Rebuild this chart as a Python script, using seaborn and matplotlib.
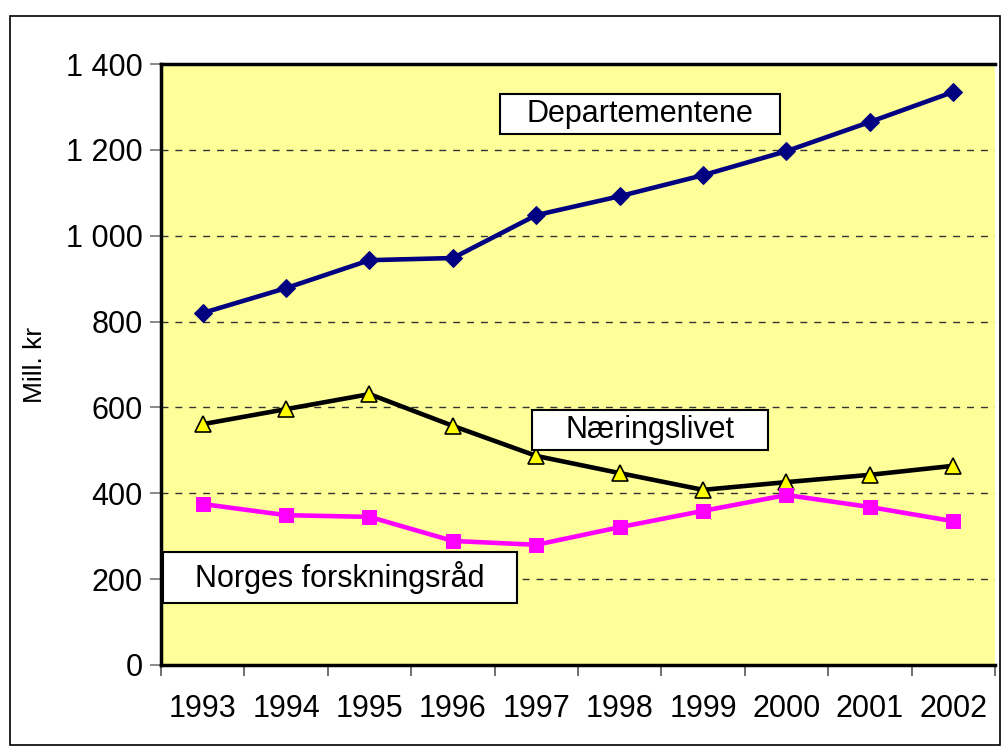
import matplotlib
matplotlib.use("Agg")
import matplotlib.pyplot as plt
import seaborn as sns
import pandas as pd
from matplotlib.patches import Rectangle
from matplotlib.ticker import FixedLocator, FuncFormatter

years = ["1993", "1994", "1995", "1996", "1997", "1998", "1999", "2000", "2001", "2002"]
departementene = [820, 878, 943, 948, 1048, 1092, 1141, 1197, 1265, 1335]
naeringslivet = [561, 596, 631, 557, 487, 447, 408, 426, 443, 464]
forskningsrad = [375, 349, 345, 289, 280, 321, 359, 396, 368, 335]
yticks = [0, 200, 400, 600, 800, 1000, 1200, 1400]

sns.set_theme(style="white")
plt.rcParams['font.family'] = ['Liberation Sans', 'DejaVu Sans']
plt.rcParams['text.color'] = 'black'
plt.rcParams['xtick.color'] = 'black'
plt.rcParams['ytick.color'] = 'black'
plt.rcParams['axes.labelcolor'] = 'black'

W, H = 1003, 747
fig = plt.figure(figsize=(W/100, H/100), dpi=100)
ax = fig.add_axes([161/W, 1 - 665/H, (995-161)/W, (665-64)/H])
ax.set_facecolor("#FFFF99")

pos = list(range(len(years)))
df = pd.DataFrame({"pos": pos, "Departementene": departementene,
                   "Næringslivet": naeringslivet, "Norges forskningsråd": forskningsrad})

sns.lineplot(data=df, x="pos", y="Departementene", ax=ax, color="#000080", lw=3.3,
             marker="D", markersize=9, markeredgecolor="#000080", markerfacecolor="#000080")
sns.lineplot(data=df, x="pos", y="Næringslivet", ax=ax, color="black", lw=3.3,
             marker="^", markersize=11, markeredgecolor="black", markerfacecolor="#FFFF00",
             markeredgewidth=1.2)
sns.lineplot(data=df, x="pos", y="Norges forskningsråd", ax=ax, color="#FF00FF", lw=3.3,
             marker="s", markersize=10, markeredgecolor="#FF00FF", markerfacecolor="#FF00FF")

ax.set_xlim(-0.5, len(years) - 0.5)
ax.set_ylim(0, 1400)
ax.set_xticks(pos)
ax.set_xticklabels(years, fontsize=22)
ax.xaxis.set_minor_locator(FixedLocator([p - 0.5 for p in pos] + [len(years) - 0.5]))
ax.tick_params(axis="x", which="major", length=0, pad=21)
ax.tick_params(axis="x", which="minor", length=8, width=1.2, color="#555555", direction="out", bottom=True)
ax.set_yticks(yticks)
ax.yaxis.set_major_formatter(FuncFormatter(lambda v, p: f"{int(v):,}".replace(",", " ")))
ax.tick_params(axis="y", length=8, width=1.2, color="#777777", direction="out", left=True, labelsize=22, pad=5)
ax.grid(axis="y", color="#333333", linestyle=(0, (5, 5)), lw=1)
ax.set_axisbelow(True)
for s in ax.spines.values():
    s.set_visible(False)
for k in ["left", "bottom", "top"]:
    ax.spines[k].set_visible(True)
    ax.spines[k].set_color("black")
    ax.spines[k].set_linewidth(2.5)
ax.set_xlabel("")
ax.set_ylabel("Mill. kr", fontsize=19, labelpad=14)

def label_box(x0, y0, x1, y1, text):
    fig.patches.append(Rectangle((x0/W, 1 - y1/H), (x1-x0)/W, (y1-y0)/H, transform=fig.transFigure,
                                 facecolor="white", edgecolor="black", lw=1.5, zorder=5))
    fig.text((x0+x1)/2/W, 1 - (y0+y1)/2/H, text, fontsize=22, ha="center", va="center", zorder=6)

label_box(500, 94, 780, 134, "Departementene")
label_box(532, 410, 768, 450, "Næringslivet")
label_box(163, 552, 517, 603, "Norges forskningsråd")

fig.patches.append(Rectangle((10/W, 1 - 745/H), 990/W, 729/H, transform=fig.transFigure,
                             fill=False, edgecolor="black", lw=1.2))

fig.savefig("out.png", dpi=100)
